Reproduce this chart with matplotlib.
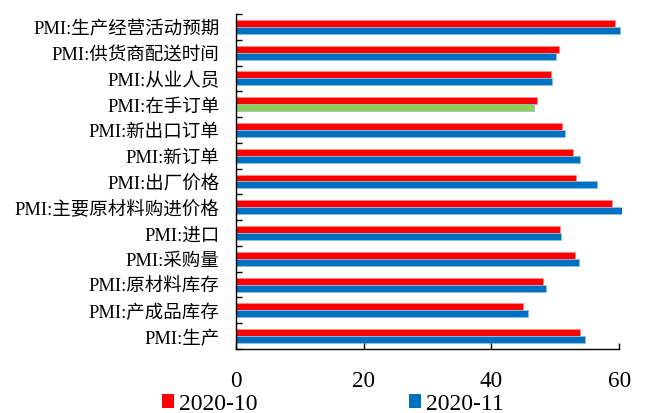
import matplotlib
matplotlib.use("Agg")
import matplotlib.pyplot as plt
from matplotlib.patches import Patch, Rectangle
import numpy as np

plt.rcParams['font.family'] = ['Liberation Serif', 'Noto Sans CJK SC']

categories = [
    "PMI:生产经营活动预期", "PMI:供货商配送时间", "PMI:从业人员", "PMI:在手订单",
    "PMI:新出口订单", "PMI:新订单", "PMI:出厂价格", "PMI:主要原材料购进价格",
    "PMI:进口", "PMI:采购量", "PMI:原材料库存", "PMI:产成品库存", "PMI:生产",
]
oct_2020 = [59.3, 50.6, 49.3, 47.2, 51.0, 52.8, 53.2, 58.8, 50.8, 53.1, 48.0, 44.9, 53.9]
nov_2020 = [60.1, 50.1, 49.5, 46.7, 51.5, 53.9, 56.5, 62.6, 50.9, 53.7, 48.6, 45.7, 54.7]
series_names = ["2020-10", "2020-11"]
x_ticks = [0, 20, 40, 60]

RED = "#FF0000"
BLUE = "#0070C0"
GREEN = "#92D050"
nov_colors = [GREEN if c == "PMI:在手订单" else BLUE for c in categories]

fig = plt.figure(figsize=(6.45, 4.14), dpi=100)
ax = fig.add_axes([0.366, 0.1546, 0.594, 0.8092])

y = np.arange(len(categories))
h = 0.27
b1 = ax.barh(y - h / 2, oct_2020, height=h, color=RED,
             edgecolor=(1, 0.55, 0.55), linewidth=0.6)
b2 = ax.barh(y + h / 2, nov_2020, height=h, color=nov_colors,
             edgecolor=(0.55, 0.75, 0.9), linewidth=0.6)

# plot area reaches a little past the last gridline, as in the source workbook
clip = Rectangle((0, 0), 1.007, 1, transform=ax.transAxes, facecolor="none")
for bar in list(b1) + list(b2):
    bar.set_clip_path(clip)

ax.set_xlim(0, 60)
ax.set_ylim(len(categories) - 0.5, -0.5)
ax.set_xticks(x_ticks)
ax.set_xticklabels([str(t) for t in x_ticks], fontsize=16.7)
ax.set_yticks(y)
ax.set_yticklabels(categories, fontsize=13.3)
ax.set_yticks(np.arange(-0.5, len(categories), 1.0), minor=True)

ax.tick_params(axis='y', which='major', length=0, pad=12)
ax.tick_params(axis='y', which='minor', direction='in', length=4, width=1)
ax.tick_params(axis='x', which='major', direction='in', length=4, width=1, pad=15)

for s in ("top", "right"):
    ax.spines[s].set_visible(False)
for s in ("left", "bottom"):
    ax.spines[s].set_linewidth(1.0)
    ax.spines[s].set_color("black")

handles = [Patch(facecolor=RED, edgecolor="none"), Patch(facecolor=BLUE, edgecolor="none")]
fig.legend(handles, series_names, loc="center", bbox_to_anchor=(0.516, 0.022),
           ncol=2, frameon=False, fontsize=17, handlelength=0.51, handleheight=0.51,
           handletextpad=0.21, columnspacing=6.4, borderpad=0)

fig.savefig("out.png", dpi=100)
